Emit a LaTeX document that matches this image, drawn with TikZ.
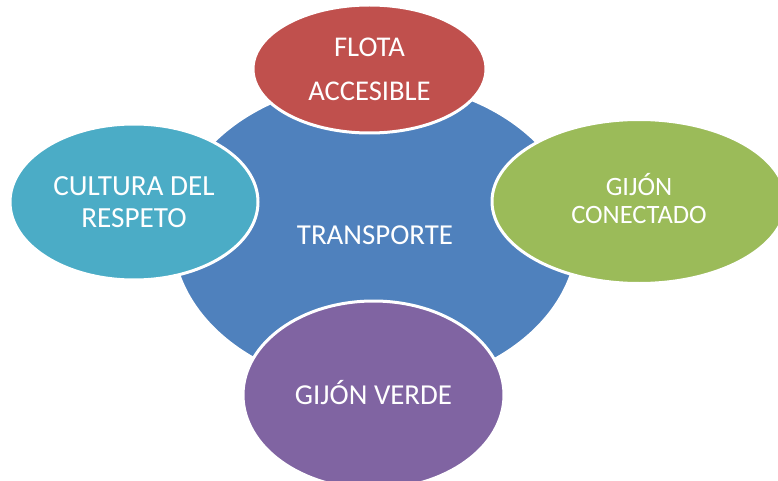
\documentclass[tikz,border=0pt]{standalone}
\usepackage{fontspec}
\setmainfont{Carlito}
\usetikzlibrary{shapes.geometric}
\definecolor{cblue}{HTML}{4F81BD}
\definecolor{cred}{HTML}{C0504D}
\definecolor{cgreen}{HTML}{9BBB59}
\definecolor{cpurple}{HTML}{8064A2}
\definecolor{cteal}{HTML}{4BACC6}
\tikzset{
  bubble/.style={ellipse, draw=white, line width=3pt, inner sep=0pt,
    text=white, align=center, text depth=0pt},
  bigfont/.style={font=\fontsize{28.9}{32}\selectfont, text height=18.5pt},
}
\begin{document}
\begin{tikzpicture}[x=1pt,y=-1pt]
\useasboundingbox (0,0) rectangle (778,481);
\node[bubble, fill=cblue, minimum width=406pt, minimum height=308pt, bigfont] (center) at (375,235) {TRANSPORTE};
\node[bubble, fill=cred, minimum width=233pt, minimum height=128pt,
  font=\fontsize{28.6}{44}\selectfont, text height=62.3pt] (flota) at (369.5,69) {FLOTA\\ACCESIBLE};
\node[bubble, fill=cteal, minimum width=248pt, minimum height=156pt,
  font=\fontsize{29.2}{32}\selectfont, text height=50.5pt] (cultura) at (134,202) {CULTURA DEL\\RESPETO};
\node[bubble, fill=cgreen, minimum width=294pt, minimum height=164pt,
  font=\fontsize{26.5}{28}\selectfont, text height=16.4pt+28pt] (conectado) at (639,201.5) {GIJÓN\\CONECTADO};
\node[bubble, fill=cpurple, minimum width=261pt, minimum height=188pt, bigfont] (verde) at (373.5,395) {GIJÓN VERDE};
\end{tikzpicture}
\end{document}
